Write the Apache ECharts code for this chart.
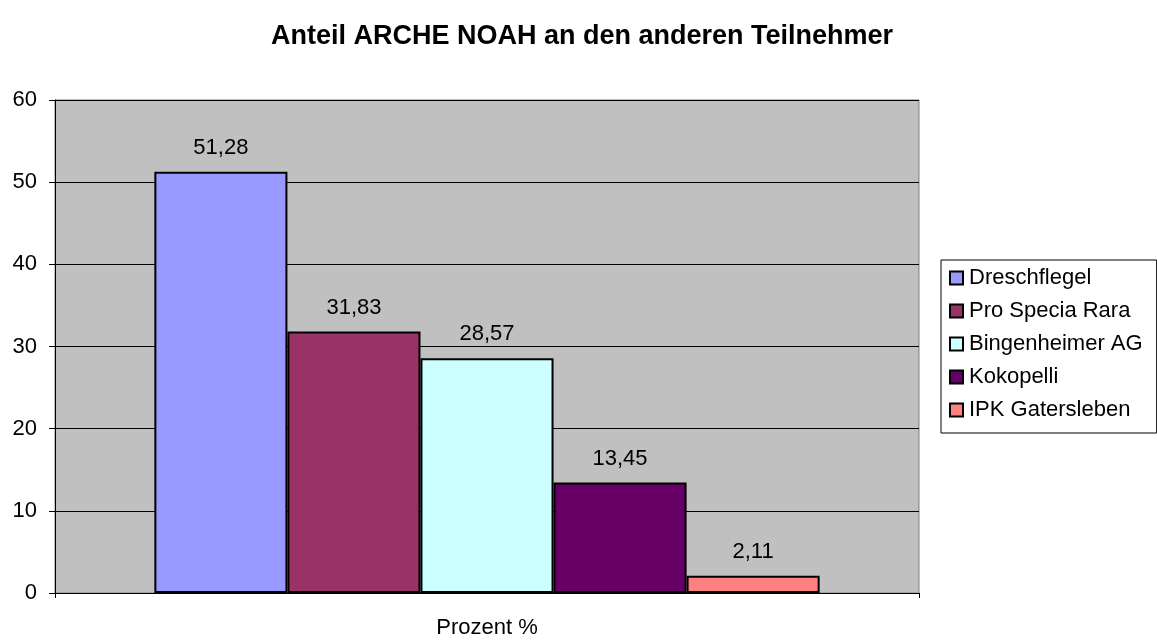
<!DOCTYPE html>
<html>
<head>
<meta charset="utf-8">
<script src="https://cdn.jsdelivr.net/npm/echarts@6/dist/echarts.min.js"></script>
<style>
	html, body { margin: 0; padding: 0; background: #fff; }
	#chart { width: 1157px; height: 640px; }
</style>
</head>
<body>
<div id="chart"></div>
<script>
var categories = ["Prozent %"];
var seriesNames = ["Dreschflegel", "Pro Specia Rara", "Bingenheimer AG", "Kokopelli", "IPK Gatersleben"];
var seriesValues = [51.28, 31.83, 28.57, 13.45, 2.11];
var seriesColors = ["#9999FF", "#993366", "#CCFFFF", "#660066", "#FF8080"];

var font = "Liberation Sans, Arial, sans-serif";
var chart = echarts.init(document.getElementById("chart"));

chart.setOption({
	animation: false,
	textStyle: { fontFamily: font },
	title: {
		text: "Anteil ARCHE NOAH an den anderen Teilnehmer",
		left: 577,
		textAlign: "center",
		top: 18,
		textStyle: { fontSize: 27, fontWeight: "bold", color: "#000", fontFamily: font }
	},
	grid: {
		left: 55,
		top: 100,
		width: 864,
		height: 493,
		show: true,
		backgroundColor: "#C0C0C0",
		borderColor: "#808080",
		borderWidth: 1
	},
	legend: {
		orient: "vertical",
		left: 941,
		top: 260,
		width: 214,
		padding: [7, 14, 12, 8],
		itemGap: 11,
		itemWidth: 13,
		itemHeight: 13,
		borderColor: "#000",
		borderWidth: 1,
		icon: "rect",
		textStyle: { fontSize: 22, lineHeight: 22, color: "#000", fontFamily: font, padding: [0, 0, 0, 1] },
		data: seriesNames.map(function (n) {
			return { name: n, itemStyle: { borderColor: "#000", borderWidth: 2 } };
		})
	},
	xAxis: {
		type: "category",
		data: categories,
		axisLine: { lineStyle: { color: "#000", width: 1 } },
		axisTick: { show: true, alignWithLabel: false, length: 5, lineStyle: { color: "#000" } },
		axisLabel: { fontSize: 22, color: "#000", margin: 24 }
	},
	yAxis: {
		type: "value",
		min: 0,
		max: 60,
		interval: 10,
		axisLine: { show: true, lineStyle: { color: "#000", width: 1 } },
		axisTick: { show: true, length: 6, lineStyle: { color: "#000" } },
		axisLabel: { fontSize: 22, color: "#000", margin: 18 },
		splitLine: { show: true, lineStyle: { color: "#000", width: 1 } }
	},
	series: seriesNames.map(function (name, i) {
		return {
			name: name,
			type: "bar",
			data: [seriesValues[i]],
			barGap: "0%",
			barCategoryGap: "23%",
			itemStyle: { color: seriesColors[i], borderColor: "#000", borderWidth: 2 },
			label: {
				show: true,
				position: "top",
				distance: 13,
				fontSize: 22,
				color: "#000",
				formatter: function (p) { return String(p.value).replace(".", ","); }
			}
		};
	})
});
</script>
</body>
</html>
